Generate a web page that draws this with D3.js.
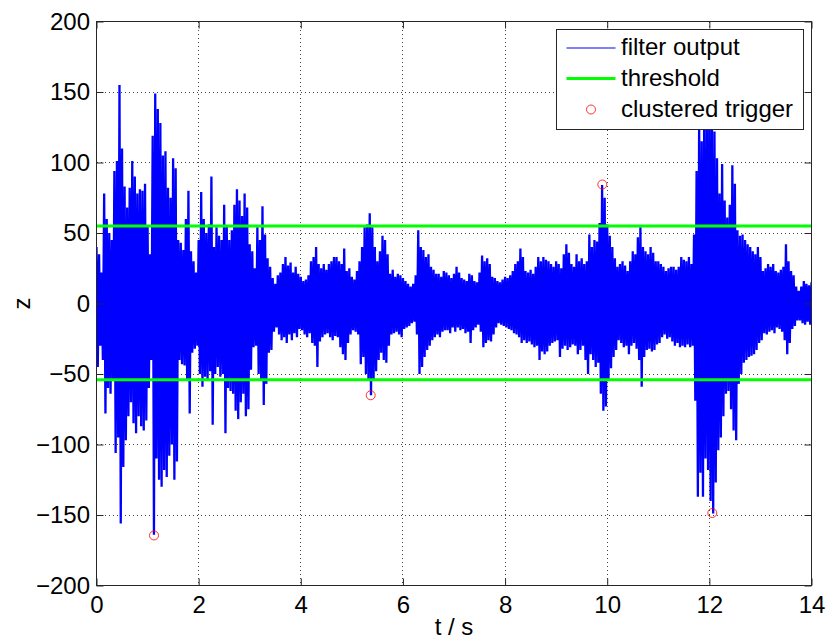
<!DOCTYPE html>
<html>
<head>
<meta charset="utf-8">
<script src="https://cdn.jsdelivr.net/npm/d3@7/dist/d3.min.js"></script>
<style>
	body { margin: 0; background: #fff; }
	svg { display: block; font-family: "Liberation Sans", Arial, Helvetica, sans-serif; }
</style>
</head>
<body>
<div id="chart"></div>
<script>
const sampleStep = 0.05;

const upperPeaks = [
	40, 35, 22, 78, 60, 50, 45, 94, 101, 155, 110, 83, 68, 82, 101, 90, 78, 81, 80, 85,
	55, 35, 119, 149, 138, 128, 105, 108, 82, 75, 103, 96, 45, 43, 38, 60, 80, 37, 30, 22,
	45, 79, 60, 50, 56, 90, 40, 54, 48, 45, 70, 55, 45, 52, 70, 81, 73, 62, 78, 68,
	42, 37, 25, 54, 45, 69, 49, 32, 26, 18, 14, 20, 22, 28, 33, 27, 29, 22, 26, 21,
	19, 16, 17, 20, 30, 33, 40, 28, 25, 28, 24, 28, 30, 33, 33, 30, 28, 39, 23, 25,
	19, 17, 23, 30, 40, 54, 56, 64, 54, 40, 30, 37, 48, 45, 35, 21, 24, 19, 21, 20,
	18, 16, 14, 12, 14, 20, 52, 40, 38, 33, 35, 26, 24, 21, 21, 19, 23, 22, 20, 18,
	21, 26, 22, 18, 17, 16, 21, 20, 16, 15, 22, 34, 30, 32, 28, 19, 18, 16, 15, 17,
	19, 18, 20, 23, 28, 30, 39, 33, 23, 22, 24, 21, 26, 33, 30, 33, 31, 30, 28, 26,
	30, 28, 25, 35, 42, 36, 28, 26, 35, 30, 32, 28, 30, 49, 40, 45, 44, 57, 84, 75,
	56, 48, 40, 32, 26, 28, 30, 27, 23, 30, 37, 35, 47, 54, 40, 37, 35, 40, 36, 30,
	30, 28, 26, 23, 25, 26, 26, 24, 26, 33, 31, 30, 33, 28, 49, 94, 130, 115, 140, 125,
	150, 135, 122, 103, 78, 99, 73, 61, 70, 98, 85, 52, 48, 49, 45, 42, 40, 37, 35, 40,
	33, 23, 25, 28, 26, 28, 23, 22, 24, 26, 42, 30, 23, 20, 12, 9, 12, 16, 14, 13,
	15,
];

const lowerPeaks = [
	-45, -30, -40, -78, -60, -64, -55, -106, -95, -156, -116, -97, -80, -70, -85, -92, -80, -87, -90, -83,
	-60, -40, -164, -110, -125, -130, -118, -123, -108, -100, -125, -112, -40, -43, -44, -55, -78, -35, -32, -30,
	-50, -59, -52, -55, -48, -86, -50, -45, -52, -50, -92, -60, -62, -64, -76, -82, -70, -64, -80, -75,
	-47, -31, -30, -50, -55, -72, -57, -35, -33, -20, -17, -22, -26, -24, -28, -22, -26, -21, -24, -18,
	-19, -22, -24, -21, -28, -30, -45, -27, -24, -22, -21, -24, -26, -23, -24, -31, -36, -40, -28, -22,
	-19, -20, -22, -43, -38, -50, -54, -65, -55, -48, -40, -35, -40, -42, -30, -22, -21, -20, -22, -24,
	-18, -17, -16, -14, -13, -22, -50, -45, -38, -33, -30, -26, -24, -22, -24, -20, -19, -19, -21, -17,
	-20, -17, -19, -18, -21, -20, -28, -19, -17, -15, -20, -31, -28, -26, -27, -22, -17, -14, -15, -16,
	-17, -18, -19, -21, -22, -24, -28, -26, -28, -27, -29, -31, -30, -40, -34, -36, -34, -30, -28, -27,
	-26, -38, -32, -30, -33, -31, -29, -30, -36, -33, -30, -40, -50, -36, -40, -45, -42, -64, -76, -73,
	-54, -46, -38, -33, -26, -28, -31, -30, -36, -30, -28, -32, -40, -59, -38, -33, -32, -34, -33, -29,
	-28, -24, -22, -25, -24, -27, -30, -28, -31, -30, -31, -29, -31, -30, -69, -137, -120, -137, -110, -118,
	-140, -149, -127, -104, -95, -80, -64, -62, -75, -90, -97, -57, -50, -42, -40, -38, -37, -36, -33, -28,
	-26, -21, -22, -20, -19, -21, -17, -18, -20, -26, -36, -28, -18, -16, -12, -12, -14, -15, -13, -15,
	-14,
];

const thresholdHigh = 55.0;
const thresholdLow = -54.0;

const triggerTimes = [1.126, 5.369, 9.904, 12.058];
const triggerValues = [-164.5, -65.1, 84.4, -148.6];

const xTicks = [0, 2, 4, 6, 8, 10, 12, 14];
const yTicks = [-200, -150, -100, -50, 0, 50, 100, 150, 200];

const legendLabels = ["filter output", "threshold", "clustered trigger"];

const svgWidth = 826;
const svgHeight = 641;

const margin = {
	top: 21.5,
	right: 14.5,
	bottom: 55.5,
	left: 96.5,
};

const axisColor = "#262626";
const tickLength = 7;
const fontSize = 24;

const x = d3
	.scaleLinear()
	.domain([0, 14])
	.range([margin.left, svgWidth - margin.right]);

const y = d3
	.scaleLinear()
	.domain([-200, 200])
	.range([svgHeight - margin.bottom, margin.top]);

const svg = d3
	.select("#chart")
	.append("svg")
	.attr("width", svgWidth)
	.attr("height", svgHeight)
	.attr("viewBox", `0 0 ${svgWidth} ${svgHeight}`);

svg
	.append("defs")
	.append("clipPath")
	.attr("id", "plot-clip")
	.append("rect")
	.attr("x", x(0))
	.attr("y", y(200))
	.attr("width", x(14) - x(0))
	.attr("height", y(-200) - y(200));

// dotted grid
const grid = svg
	.append("g")
	.attr("stroke", "#444")
	.attr("stroke-width", 1)
	.attr("stroke-dasharray", "1,3")
	.attr("shape-rendering", "crispEdges");

grid
	.selectAll(".vgrid")
	.data(xTicks.slice(1, -1))
	.join("line")
	.attr("x1", (d) => x(d))
	.attr("x2", (d) => x(d))
	.attr("y1", y(200))
	.attr("y2", y(-200));

grid
	.selectAll(".hgrid")
	.data(yTicks.slice(1, -1))
	.join("line")
	.attr("x1", x(0))
	.attr("x2", x(14))
	.attr("y1", (d) => y(d))
	.attr("y2", (d) => y(d));

// signal: alternate positive peak and following negative peak
const signalPoints = [];
upperPeaks.forEach((hi, i) => {
	const t = i * sampleStep;
	signalPoints.push([t, hi]);
	signalPoints.push([t + sampleStep / 2, lowerPeaks[i]]);
});

const line = d3
	.line()
	.x((d) => x(d[0]))
	.y((d) => y(d[1]));

svg
	.append("path")
	.datum(signalPoints)
	.attr("clip-path", "url(#plot-clip)")
	.attr("d", line)
	.attr("fill", "none")
	.attr("stroke", "#0000ff")
	.attr("stroke-width", 2.3)
	.attr("stroke-linejoin", "miter")
	.attr("stroke-miterlimit", 1.5);

// thresholds
svg
	.selectAll(".threshold")
	.data([thresholdHigh, thresholdLow])
	.join("line")
	.attr("x1", x(0))
	.attr("x2", x(14))
	.attr("y1", (d) => y(d))
	.attr("y2", (d) => y(d))
	.attr("stroke", "#00ff00")
	.attr("stroke-width", 3);

// clustered triggers
svg
	.selectAll(".trigger")
	.data(triggerTimes)
	.join("circle")
	.attr("cx", (d) => x(d))
	.attr("cy", (d, i) => y(triggerValues[i]))
	.attr("r", 4.5)
	.attr("fill", "none")
	.attr("stroke", "#ff0000")
	.attr("stroke-width", 0.8);

// axes, ticks pointing inwards on all four sides
const styleAxis = (g) => {
	g.attr("font-size", fontSize).attr("font-family", null);
	g.selectAll(".domain").remove();
	g.selectAll(".tick line").attr("stroke", axisColor);
	g.selectAll(".tick text").attr("fill", "#000");
};

svg
	.append("g")
	.attr("transform", `translate(0, ${y(-200)})`)
	.call(
		d3.axisBottom(x).tickValues(xTicks).tickSizeInner(-tickLength).tickSizeOuter(0).tickPadding(10.5)
	)
	.call(styleAxis);

svg
	.append("g")
	.attr("transform", `translate(${x(0)}, 0)`)
	.call(
		d3.axisLeft(y).tickValues(yTicks).tickSizeInner(-tickLength).tickSizeOuter(0).tickPadding(6.5)
	)
	.call(styleAxis);

svg
	.append("g")
	.attr("transform", `translate(0, ${y(200)})`)
	.call(d3.axisTop(x).tickValues(xTicks).tickSizeInner(-tickLength).tickSizeOuter(0).tickFormat(""))
	.call(styleAxis);

svg
	.append("g")
	.attr("transform", `translate(${x(14)}, 0)`)
	.call(d3.axisRight(y).tickValues(yTicks).tickSizeInner(-tickLength).tickSizeOuter(0).tickFormat(""))
	.call(styleAxis);

svg
	.append("rect")
	.attr("x", x(0))
	.attr("y", y(200))
	.attr("width", x(14) - x(0))
	.attr("height", y(-200) - y(200))
	.attr("fill", "none")
	.attr("stroke", axisColor)
	.attr("shape-rendering", "crispEdges");

// axis labels
svg
	.append("text")
	.attr("x", (x(0) + x(14)) / 2)
	.attr("y", 635)
	.attr("text-anchor", "middle")
	.style("font-size", `${fontSize}px`)
	.text("t / s");

svg
	.append("text")
	.attr("transform", `translate(30, ${(y(-200) + y(200)) / 2}) rotate(-90)`)
	.attr("text-anchor", "middle")
	.style("font-size", `${fontSize}px`)
	.text("z");

// legend
const legend = svg.append("g").attr("transform", "translate(556.5, 29.5)");

legend
	.append("rect")
	.attr("width", 247)
	.attr("height", 100)
	.attr("fill", "#fff")
	.attr("stroke", axisColor)
	.attr("shape-rendering", "crispEdges");

const rowY = (i) => 18 + i * 31;

legend
	.append("line")
	.attr("x1", 10)
	.attr("x2", 59)
	.attr("y1", rowY(0) + 0.5)
	.attr("y2", rowY(0) + 0.5)
	.attr("stroke", "#0000ff")
	.attr("stroke-width", 1);

legend
	.append("line")
	.attr("x1", 10)
	.attr("x2", 59)
	.attr("y1", rowY(1))
	.attr("y2", rowY(1))
	.attr("stroke", "#00ff00")
	.attr("stroke-width", 3);

legend
	.append("circle")
	.attr("cx", 34.5)
	.attr("cy", rowY(2))
	.attr("r", 4.5)
	.attr("fill", "none")
	.attr("stroke", "#ff0000")
	.attr("stroke-width", 0.8);

legend
	.selectAll(".legend-label")
	.data(legendLabels)
	.join("text")
	.attr("x", 64.5)
	.attr("y", (d, i) => rowY(i))
	.attr("dy", "0.33em")
	.style("font-size", `${fontSize}px`)
	.text((d) => d);
</script>
</body>
</html>
